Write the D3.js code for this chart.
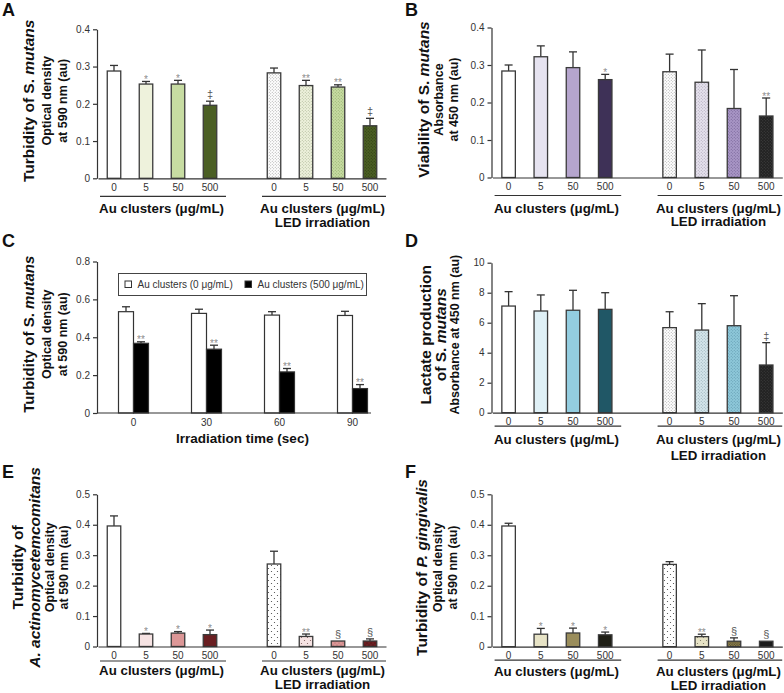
<!DOCTYPE html>
<html>
<head>
<meta charset="utf-8">
<script src="https://cdn.jsdelivr.net/npm/d3@7"></script>
<style>
  body { margin: 0; background: #fff; }
  svg { font-family: "Liberation Sans", Arial, sans-serif; }
</style>
</head>
<body>
<svg id="fig" width="784" height="693"></svg>
<script>
// categories
var doses = ["0", "5", "50", "500"];
var times = ["0", "30", "60", "90"];
var legendNames = ["Au clusters (0 \u03bcg/mL)", "Au clusters (500 \u03bcg/mL)"];

// A - turbidity of S. mutans
var aMean = [0.288, 0.253, 0.253, 0.196];
var aErr = [0.015, 0.007, 0.010, 0.011];
var aLedMean = [0.283, 0.249, 0.245, 0.141];
var aLedErr = [0.013, 0.014, 0.006, 0.020];
var aSig = ["", "*", "*", "\u2021"];
var aLedSig = ["", "**", "**", "\u2021"];
var aTicks = [0, 0.1, 0.2, 0.3, 0.4];

// B - viability of S. mutans
var bMean = [0.284, 0.322, 0.293, 0.261];
var bErr = [0.016, 0.029, 0.042, 0.014];
var bLedMean = [0.282, 0.254, 0.184, 0.164];
var bLedErr = [0.047, 0.086, 0.104, 0.048];
var bSig = ["", "", "", "*"];
var bLedSig = ["", "", "", "**"];
var bTicks = [0, 0.1, 0.2, 0.3, 0.4];

// C - irradiation time
var c0Mean = [0.535, 0.526, 0.517, 0.515];
var c0Err = [0.026, 0.022, 0.018, 0.022];
var c500Mean = [0.368, 0.337, 0.217, 0.129];
var c500Err = [0.008, 0.021, 0.018, 0.021];
var cSig = ["**", "**", "**", "**"];
var cTicks = [0, 0.2, 0.4, 0.6, 0.8];

// D - lactate production
var dMean = [7.11, 6.78, 6.83, 6.89];
var dErr = [0.96, 1.07, 1.33, 1.11];
var dLedMean = [5.67, 5.51, 5.80, 3.18];
var dLedErr = [1.06, 1.76, 2.00, 1.49];
var dSig = ["", "", "", ""];
var dLedSig = ["", "", "", "\u2021"];
var dTicks = [0, 2, 4, 6, 8, 10];

// E - A. actinomycetemcomitans
var eMean = [0.396, 0.041, 0.044, 0.039];
var eErr = [0.033, 0.002, 0.005, 0.015];
var eLedMean = [0.271, 0.033, 0.018, 0.018];
var eLedErr = [0.042, 0.008, 0.001, 0.007];
var eSig = ["", "*", "*", "*"];
var eLedSig = ["", "**", "\u00a7", "\u00a7"];
var eTicks = [0, 0.1, 0.2, 0.3, 0.4, 0.5];

// F - P. gingivalis
var fMean = [0.396, 0.041, 0.045, 0.039];
var fErr = [0.009, 0.019, 0.016, 0.009];
var fLedMean = [0.270, 0.033, 0.018, 0.018];
var fLedErr = [0.009, 0.008, 0.011, 0];
var fSig = ["", "*", "*", "*"];
var fLedSig = ["", "**", "\u00a7", "\u00a7"];
var fTicks = [0, 0.1, 0.2, 0.3, 0.4, 0.5];

var svg = d3.select("#fig");
var defs = svg.append("defs");
var patCount = 0;

// stippled fill used for the LED irradiation bars
function dotted(bg, dot, step, r) {
  var id = "pat" + (patCount++);
  var pt = defs.append("pattern").attr("id", id)
    .attr("patternUnits", "userSpaceOnUse")
    .attr("width", step).attr("height", step);
  pt.append("rect").attr("width", step).attr("height", step).attr("fill", bg);
  pt.append("circle").attr("cx", step / 4).attr("cy", step / 4).attr("r", r).attr("fill", dot);
  pt.append("circle").attr("cx", 3 * step / 4).attr("cy", 3 * step / 4).attr("r", r).attr("fill", dot);
  return "url(#" + id + ")";
}

function styleAxis(g) {
  g.selectAll("path,line").attr("stroke", "#333").attr("stroke-width", 1.2);
  g.selectAll("text").attr("fill", "#333").attr("font-size", 10)
    .attr("font-family", "'Liberation Sans', Arial, sans-serif");
}

function fmtTick(d) {
  return d === 0 ? "0" : (d % 1 === 0 ? d3.format("d")(d) : d3.format(".1f")(d));
}

function yTitle(lines, cy) {
  lines.forEach(function(l) {
    var t = svg.append("text")
      .attr("transform", "translate(" + l.x + "," + cy + ") rotate(-90)")
      .attr("text-anchor", "middle")
      .attr("dy", "0.35em")
      .attr("font-weight", "bold")
      .attr("font-size", l.size)
      .attr("fill", "#111");
    l.parts.forEach(function(p) {
      t.append("tspan").text(p[0]).attr("font-style", p[1] ? "italic" : "normal");
    });
  });
}

function panelLabel(txt, x, y) {
  svg.append("text").attr("x", x).attr("y", y).text(txt)
    .attr("font-weight", "bold").attr("font-size", 18).attr("fill", "#111");
}

function sigMark(g, s, cx, top) {
  if (!s) return;
  var star = s.indexOf("*") >= 0;
  g.append("text").attr("x", cx).attr("y", star ? top + 1.5 : top - 3)
    .attr("text-anchor", "middle").attr("font-size", star ? 10 : 11)
    .attr("opacity", 0.99)
    .attr("fill", star ? "#8c8c8c" : "#555").text(s);
}

function errBar(g, cx, yBar, yTop) {
  if (yBar - yTop < 0.5) return;
  g.append("line").attr("x1", cx).attr("x2", cx).attr("y1", yBar).attr("y2", yTop)
    .attr("stroke", "#333").attr("stroke-width", 1.3);
  g.append("line").attr("x1", cx - 4).attr("x2", cx + 4).attr("y1", yTop).attr("y2", yTop)
    .attr("stroke", "#333").attr("stroke-width", 1.3);
}

function barPanel(p) {
  var g = svg.append("g");
  var slots = doses.concat(["gap"], doses.map(function(d) { return "L" + d; }));
  var x = d3.scaleBand().domain(slots).range([p.x0, p.x0 + 9 * p.step]);
  var y = d3.scaleLinear().domain([0, p.max]).range([p.y0, p.yTop]);
  var bw = 13.5;

  var rows = doses.map(function(d, i) {
    return { key: d, mean: p.mean[i], err: p.err[i], sig: p.sig[i], fill: p.fill[i] };
  }).concat(doses.map(function(d, i) {
    return { key: "L" + d, mean: p.ledMean[i], err: p.ledErr[i], sig: p.ledSig[i], fill: p.ledFill[i] };
  }));

  rows.forEach(function(r) {
    var cx = x(r.key) + x.bandwidth() / 2;
    errBar(g, cx, y(r.mean), y(r.mean + r.err));
    g.append("rect")
      .attr("x", cx - bw / 2).attr("y", y(r.mean))
      .attr("width", bw).attr("height", p.y0 - y(r.mean))
      .attr("fill", r.fill).attr("stroke", "#3a3a3a").attr("stroke-width", 1.3);
    sigMark(g, r.sig, cx, y(r.mean + r.err));
  });

  var xa = g.append("g").attr("transform", "translate(0," + p.y0 + ")")
    .call(d3.axisBottom(x).tickValues(slots.filter(function(s) { return s !== "gap"; }))
      .tickFormat(function(k) { return k.replace("L", ""); })
      .tickSize(0).tickSizeOuter(0).tickPadding(5.5));
  styleAxis(xa);

  var ya = g.append("g").attr("transform", "translate(" + (p.x0 - 1) + ",0)")
    .call(d3.axisLeft(y).tickValues(p.ticks).tickFormat(fmtTick).tickSize(4).tickSizeOuter(0));
  styleAxis(ya);

  function c(k) { return x(k) + x.bandwidth() / 2; }
  var groups = [
    { a: c("0") - 14, b: c("500") + 16, lines: ["Au clusters (\u03bcg/mL)"] },
    { a: c("L0") - 12, b: c("L500") + 16, lines: ["Au clusters (\u03bcg/mL)", "LED irradiation"] }
  ];
  groups.forEach(function(gr) {
    g.append("line").attr("x1", gr.a).attr("x2", gr.b)
      .attr("y1", p.y0 + p.off[0]).attr("y2", p.y0 + p.off[0])
      .attr("stroke", "#333").attr("stroke-width", 1.2);
    gr.lines.forEach(function(t, i) {
      g.append("text").attr("x", (gr.a + gr.b) / 2 - 1.5).attr("y", p.y0 + p.off[1 + i])
        .attr("text-anchor", "middle").attr("font-weight", "bold")
        .attr("font-size", 13.3).attr("fill", "#111").text(t);
    });
  });

  yTitle(p.title, (p.y0 + p.yTop) / 2 - 3);
  panelLabel(p.label, p.lx, p.ly);
}

// panel C, grouped bars over irradiation time
function timePanel() {
  var g = svg.append("g");
  var x0 = 97, y0 = 413, yTop = 261.5;
  var x = d3.scaleBand().domain(times).range([x0, x0 + 4 * 73]);
  var y = d3.scaleLinear().domain([0, 0.8]).range([y0, yTop]);
  var bw = 15;
  times.forEach(function(t, i) {
    var c = x(t) + x.bandwidth() / 2;
    var series = [
      { cx: c - bw / 2, mean: c0Mean[i], err: c0Err[i], fill: "#fff", sig: "" },
      { cx: c + bw / 2, mean: c500Mean[i], err: c500Err[i], fill: "#000", sig: cSig[i] }
    ];
    series.forEach(function(s) {
      errBar(g, s.cx, y(s.mean), y(s.mean + s.err));
      g.append("rect").attr("x", s.cx - bw / 2).attr("y", y(s.mean))
        .attr("width", bw).attr("height", y0 - y(s.mean))
        .attr("fill", s.fill).attr("stroke", "#333").attr("stroke-width", 1.2);
      sigMark(g, s.sig, s.cx, y(s.mean + s.err));
    });
  });

  var xa = g.append("g").attr("transform", "translate(0," + y0 + ")")
    .call(d3.axisBottom(x).tickSize(0).tickSizeOuter(0).tickPadding(5.5));
  styleAxis(xa);
  xa.select(".domain").remove();
  g.append("line").attr("x1", x0).attr("x2", 371).attr("y1", y0).attr("y2", y0)
    .attr("stroke", "#333").attr("stroke-width", 1.2);

  var ya = g.append("g").attr("transform", "translate(" + x0 + ",0)")
    .call(d3.axisLeft(y).tickValues(cTicks).tickFormat(fmtTick).tickSize(4).tickSizeOuter(0));
  styleAxis(ya);

  g.append("text").attr("x", 242.5).attr("y", 443).attr("text-anchor", "middle")
    .attr("font-weight", "bold").attr("font-size", 13.5).attr("fill", "#111")
    .text("Irradiation time (sec)");

  // legend
  g.append("rect").attr("x", 118.5).attr("y", 273.5).attr("width", 248).attr("height", 22)
    .attr("fill", "#fff").attr("stroke", "#444").attr("stroke-width", 1);
  var lx = [125, 245], fills = ["#fff", "#000"];
  legendNames.forEach(function(n, i) {
    g.append("rect").attr("x", lx[i]).attr("y", 281).attr("width", 6.5).attr("height", 6.5)
      .attr("fill", fills[i]).attr("stroke", "#333").attr("stroke-width", 1);
    g.append("text").attr("x", lx[i] + 12.5).attr("y", 288).attr("font-size", 10)
      .attr("fill", "#333").text(n);
  });

  yTitle([
    { parts: [["Turbidity of S. ", false], ["mutans", true]], size: 15, x: 29 },
    { parts: [["Optical density", false]], size: 12.5, x: 47 },
    { parts: [["at 590 nm (au)", false]], size: 12.5, x: 63 }
  ], (y0 + yTop) / 2 - 3);
  panelLabel("C", 2, 247);
}

var leftX = 98, rightX = 492.5, step = 32.2;

barPanel({
  label: "A", lx: 2, ly: 16, x0: leftX, step: 32, y0: 178.3, yTop: 29.3, max: 0.4, ticks: aTicks,
  mean: aMean, err: aErr, ledMean: aLedMean, ledErr: aLedErr, sig: aSig, ledSig: aLedSig,
  fill: ["#ffffff", "#eef2dc", "#c7dca2", "#4b5f24"],
  ledFill: [dotted("#fff", "#999", 3, 0.5), dotted("#eef2dc", "#a3ad8d", 3, 0.5),
            dotted("#c7dca2", "#8aa465", 3, 0.5), dotted("#4b5f24", "#2b3a10", 3, 0.55)],
  off: [18, 35, 49],
  title: [
    { parts: [["Turbidity of S. ", false], ["mutans", true]], size: 15.5, x: 29 },
    { parts: [["Optical density", false]], size: 12.5, x: 47 },
    { parts: [["at 590 nm (au)", false]], size: 12.5, x: 63 }
  ]
});

barPanel({
  label: "B", lx: 405, ly: 16, x0: rightX, step: step, y0: 177.5, yTop: 27.5, max: 0.4, ticks: bTicks,
  mean: bMean, err: bErr, ledMean: bLedMean, ledErr: bLedErr, sig: bSig, ledSig: bLedSig,
  fill: ["#ffffff", "#e6e3f0", "#b5a5cd", "#3e3157"],
  ledFill: [dotted("#fff", "#999", 3, 0.5), dotted("#e6e2ee", "#a09aaa", 3, 0.5),
            dotted("#a996c6", "#6c5a8c", 3, 0.5), dotted("#222", "#4a4a4a", 3, 0.5)],
  off: [18, 35, 48.5],
  title: [
    { parts: [["Viability of S. ", false], ["mutans", true]], size: 15.5, x: 424 },
    { parts: [["Absorbance", false]], size: 12.5, x: 439 },
    { parts: [["at 450 nm (au)", false]], size: 12.5, x: 454 }
  ]
});

timePanel();

barPanel({
  label: "D", lx: 405, ly: 247, x0: rightX, step: step, y0: 412.7, yTop: 262.7, max: 10, ticks: dTicks,
  mean: dMean, err: dErr, ledMean: dLedMean, ledErr: dLedErr, sig: dSig, ledSig: dLedSig,
  fill: ["#ffffff", "#dff0f6", "#93cde0", "#205766"],
  ledFill: [dotted("#fff", "#999", 3, 0.5), dotted("#d5e6ec", "#8aa3ab", 3, 0.5),
            dotted("#8ec8da", "#5a93a6", 3, 0.5), dotted("#222", "#444", 3, 0.5)],
  off: [13.5, 31, 47],
  title: [
    { parts: [["Lactate production", false]], size: 15.5, x: 426 },
    { parts: [["of S. ", false], ["mutans", true]], size: 15.5, x: 441 },
    { parts: [["Absorbance at 450 nm (au)", false]], size: 12.5, x: 455 }
  ]
});

barPanel({
  label: "E", lx: 2, ly: 478, x0: leftX, step: 32, y0: 646.5, yTop: 494.3, max: 0.5, ticks: eTicks,
  mean: eMean, err: eErr, ledMean: eLedMean, ledErr: eLedErr, sig: eSig, ledSig: eLedSig,
  fill: ["#ffffff", "#f6e3e3", "#dc9797", "#6a1f22"],
  ledFill: [dotted("#fff", "#444", 6, 0.6), dotted("#f6e3e3", "#7a5a5a", 6, 0.6),
            dotted("#dc9797", "#a06060", 4, 0.5), dotted("#6a1f22", "#3a0608", 4, 0.5)],
  off: [14.5, 28.5, 42.5],
  title: [
    { parts: [["Turbidity of", false]], size: 15.5, x: 18 },
    { parts: [["A. actinomycetemcomitans", true]], size: 15.5, x: 35 },
    { parts: [["Optical density", false]], size: 12.5, x: 50 },
    { parts: [["at 590 nm (au)", false]], size: 12.5, x: 64 }
  ]
});

barPanel({
  label: "F", lx: 405, ly: 478, x0: rightX, step: step, y0: 646.7, yTop: 494.3, max: 0.5, ticks: fTicks,
  mean: fMean, err: fErr, ledMean: fLedMean, ledErr: fLedErr, sig: fSig, ledSig: fLedSig,
  fill: ["#ffffff", "#e7e3c6", "#9a8d5b", "#1f1f16"],
  ledFill: [dotted("#fff", "#444", 6, 0.6), dotted("#e7e3c6", "#7a7560", 6, 0.6),
            dotted("#8e8150", "#4e4626", 2.5, 0.6), "#1c1c1c"],
  off: [13.5, 29, 43.5],
  title: [
    { parts: [["Turbidity of ", false], ["P. gingivalis", true]], size: 15.5, x: 422 },
    { parts: [["Optical density", false]], size: 12.5, x: 438 },
    { parts: [["at 590 nm (au)", false]], size: 12.5, x: 453 }
  ]
});
</script>
</body>
</html>
